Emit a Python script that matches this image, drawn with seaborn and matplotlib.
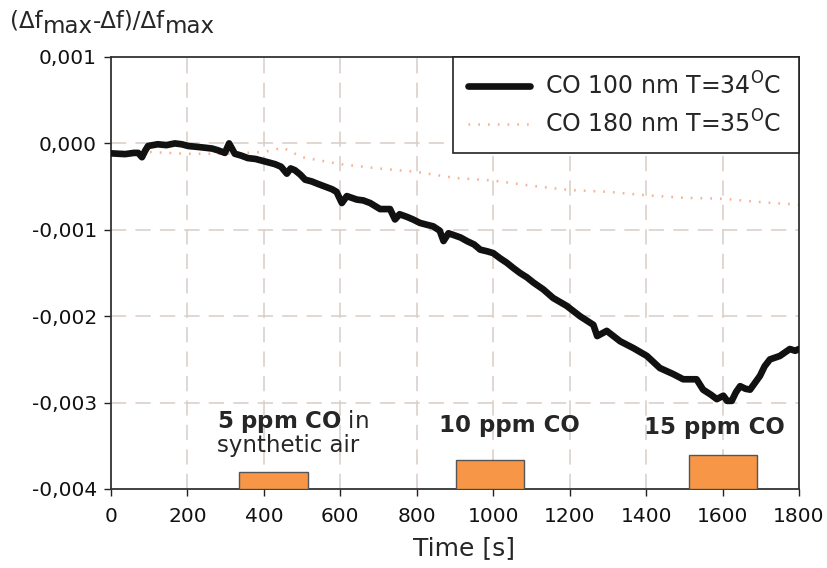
import numpy as np
import pandas as pd
import matplotlib
matplotlib.use("Agg")
import matplotlib.pyplot as plt
import seaborn as sns

# --- data -------------------------------------------------------------------
t_100 = [0, 20, 37, 60, 71, 81, 90, 97, 122, 145, 167, 185, 202, 225, 246, 265,
         280, 298, 309, 324, 340, 358, 378, 395, 412, 429, 445, 460, 470, 481,
         495, 508, 525, 542, 560, 578, 590, 604, 617, 643, 660, 678, 704, 730,
         743, 755, 774, 790, 808, 825, 843, 860, 870, 883, 896, 915, 931, 950,
         966, 985, 1000, 1018, 1035, 1052, 1070, 1088, 1105, 1131, 1157, 1192,
         1227, 1262, 1272, 1297, 1332, 1367, 1402, 1436, 1471, 1497, 1532,
         1549, 1570, 1585, 1602, 1612, 1624, 1635, 1646, 1660, 1672, 1698,
         1710, 1724, 1750, 1776, 1790, 1800]
v_100 = [-0.000115, -0.00012, -0.000124, -0.00011, -0.00011, -0.00016, -0.00008,
         -0.00003, -0.00001, -0.00002, 0.0, -0.00001, -0.00003, -0.00004,
         -0.00005, -0.00006, -0.00008, -0.00011, 0.0, -0.00012, -0.00014,
         -0.00017, -0.00018, -0.0002, -0.00022, -0.00024, -0.00027, -0.00035,
         -0.00029, -0.00031, -0.00036, -0.00042, -0.00044, -0.00047, -0.0005,
         -0.00053, -0.00056, -0.00069, -0.00061, -0.00065, -0.00066, -0.00069,
         -0.00076, -0.00076, -0.00088, -0.00082, -0.00085, -0.00088, -0.00092,
         -0.00094, -0.00096, -0.00101, -0.00113, -0.00104, -0.00106, -0.00109,
         -0.00113, -0.00117, -0.00123, -0.00125, -0.00127, -0.00133, -0.00138,
         -0.00144, -0.0015, -0.00155, -0.00161, -0.00169, -0.00179, -0.00188,
         -0.002, -0.0021, -0.00223, -0.00217, -0.00229, -0.00237, -0.00246,
         -0.0026, -0.00267, -0.00273, -0.00273, -0.00285, -0.00291, -0.00296,
         -0.00292, -0.00298, -0.00298, -0.00288, -0.00281, -0.00284, -0.00285,
         -0.00269, -0.00258, -0.0025, -0.00246, -0.00238, -0.00240, -0.00238]

t_180 = [0, 100, 200, 300, 400, 450, 500, 600, 700, 800, 900, 1000, 1100,
         1200, 1300, 1400, 1500, 1600, 1700, 1800]
v_180 = [-0.0001, -0.0001, -0.00012, -0.00012, -0.0001, -0.00005, -0.00016,
         -0.00024, -0.00029, -0.00033, -0.0004, -0.00043, -0.00049, -0.00054,
         -0.00056, -0.0006, -0.00063, -0.00064, -0.00068, -0.00071]

pulse_start = [335, 903, 1513]
pulse_end = [515, 1081, 1691]
pulse_top = [-0.00380, -0.00367, -0.00361]
axis_bottom = -0.004

x_ticks = [0, 200, 400, 600, 800, 1000, 1200, 1400, 1600, 1800]
y_ticks = [0.001, 0.0, -0.001, -0.002, -0.003, -0.004]
y_tick_labels = ["0,001", "0,000", "-0,001", "-0,002", "-0,003", "-0,004"]

series_labels = [r"CO 100 nm T=34$^{\mathrm{O}}$C", r"CO 180 nm T=35$^{\mathrm{O}}$C"]
ylabel_pieces = [("(\u0394f", 0), ("max", -6), ("-\u0394f)/\u0394f", 0), ("max", -6)]

# --- styling ------------------------------------------------------------------
sns.set_style("white")
plt.rcParams["font.family"] = ["DejaVu Sans"]
plt.rcParams["mathtext.fontset"] = "dejavusans"

fig = plt.figure(figsize=(8.27, 5.68), dpi=100)
ax = fig.add_axes([111 / 827, 1 - 489 / 568, 688 / 827, 432 / 568])

grid_col = "#d9cdc6"
for xt in x_ticks[1:-1]:
    ax.axvline(xt, color=grid_col, lw=1.1, ls=(0, (10, 6)), zorder=0)
for yt in y_ticks[1:-1]:
    ax.axhline(yt, color=grid_col, lw=1.1, ls=(0, (10, 6)), zorder=0)

df100 = pd.DataFrame({"t": t_100, "v": v_100})
df180 = pd.DataFrame({"t": t_180, "v": v_180})

sns.lineplot(data=df180, x="t", y="v", ax=ax, color="#f6b294", lw=1.8,
             linestyle=(0, (0.7, 3.2)), label=series_labels[1], zorder=2)
sns.lineplot(data=df100, x="t", y="v", ax=ax, color="#111111", lw=4.8,
             label=series_labels[0], zorder=3, solid_joinstyle="round",
             solid_capstyle="round")

# gas pulses
widths = [e - s for s, e in zip(pulse_start, pulse_end)]
heights = [top - axis_bottom for top in pulse_top]
ax.bar(pulse_start, heights, width=widths, bottom=axis_bottom, align="edge",
       color="#f79646", edgecolor="#555555", linewidth=1.0, zorder=4)

ax.set_xlim(0, 1800)
ax.set_ylim(-0.004, 0.001)
ax.set_xticks(x_ticks)
ax.set_xticklabels([str(x) for x in x_ticks])
ax.set_yticks(y_ticks)
ax.set_yticklabels(y_tick_labels)
ax.tick_params(axis="both", direction="out", length=5, width=1, labelsize=14.5,
               color="#222222", labelcolor="#111111", bottom=True, left=True)
ax.tick_params(axis="x", pad=8)
ax.tick_params(axis="y", pad=5)
for sp in ax.spines.values():
    sp.set_color("#333333")
    sp.set_linewidth(1.3)

ax.set_xlabel("Time [s]", fontsize=18)
ax.xaxis.set_label_coords(0.513, -0.108)
ax.set_ylabel("")

# annotations
ax.text(277, -0.00322, r"$\mathbf{5\ ppm\ CO}$ in", fontsize=16.5, ha="left", va="center")
ax.text(277, -0.00350, "synthetic air", fontsize=16.5, ha="left", va="center")
ax.text(1041, -0.00326, "10 ppm CO", fontsize=16.5, fontweight="bold", ha="center", va="center")
ax.text(1578, -0.00329, "15 ppm CO", fontsize=16.5, fontweight="bold", ha="center", va="center")

# legend: solid first, dotted second
handles, labels = ax.get_legend_handles_labels()
order = [labels.index(series_labels[0]), labels.index(series_labels[1])]
leg = ax.legend([handles[i] for i in order], [labels[i] for i in order],
                loc="upper left", bbox_to_anchor=(0.497, 0.0, 0.503, 1.0),
                mode="expand", fontsize=17,
                frameon=True, fancybox=False, framealpha=1, edgecolor="#222222",
                borderpad=0.65, handlelength=2.6, labelspacing=0.45,
                handletextpad=0.65, borderaxespad=0)
leg.get_frame().set_linewidth(1.2)

# y-axis title above the axis, with full-size lowered "max"
fig.canvas.draw()
renderer = fig.canvas.get_renderer()
x_px, base_px = 10, 568 - 27
for txt, dy in ylabel_pieces:
    t = fig.text(x_px / 827, (base_px + dy) / 568, txt, fontsize=16.5,
                 ha="left", va="baseline")
    bb = t.get_window_extent(renderer)
    x_px = bb.x1

fig.savefig("out.png", dpi=100)
